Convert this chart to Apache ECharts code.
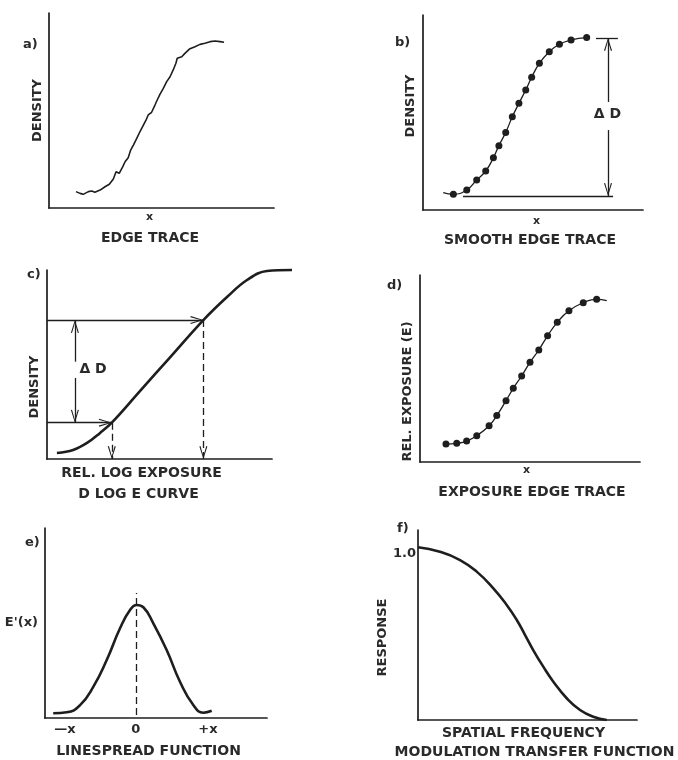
<!DOCTYPE html>
<html>
<head>
<meta charset="utf-8">
<title>Edge trace to MTF</title>
<script src="https://cdn.jsdelivr.net/npm/echarts@6.0.0/dist/echarts.min.js"></script>
<style>
  html, body { margin: 0; padding: 0; background: #fff; }
  #chart { width: 678px; height: 760px; }
</style>
</head>
<body>
<div id="chart"></div>
<script>
// a) raw microdensitometer edge trace
var edgeTrace = [
  [12.0, 8.4], [13.8, 7.5], [15.2, 7.0], [17.5, 8.4], [19.0, 8.7], [20.4, 8.1],
  [22.7, 9.2], [24.9, 10.9], [26.8, 12.2], [28.6, 14.9], [29.8, 18.6], [31.2, 17.8],
  [32.8, 21.2], [33.8, 23.7], [35.2, 25.8], [36.3, 29.7], [37.5, 32.3], [39.0, 35.7],
  [40.4, 39.1], [41.6, 41.7], [43.1, 45.1], [44.1, 47.7], [45.6, 49.1], [47.1, 52.8],
  [48.1, 55.4], [49.3, 58.3], [50.8, 61.4], [52.3, 64.8], [53.8, 67.3], [55.2, 70.8],
  [56.4, 74.2], [57.0, 76.8], [59.0, 77.6], [60.4, 79.3], [62.4, 81.5], [64.9, 82.7],
  [67.1, 83.9], [69.3, 84.5], [71.6, 85.3], [73.8, 85.6], [76.0, 85.3], [77.8, 85.0]
];
// b) smoothed edge trace, first point is the curve start (no dot)
var smoothTrace = [
  [9.2, 8.9], [13.8, 8.1], [19.9, 10.3], [24.4, 15.4], [28.5, 20.0], [32.0, 26.8],
  [34.5, 33.0], [37.6, 39.8], [40.6, 47.8], [43.6, 54.7], [46.7, 61.5], [49.4, 68.1],
  [52.9, 75.2], [57.4, 81.2], [62.0, 85.0], [67.3, 87.2], [74.4, 88.4]
];
// c) D log E curve (runs on past the end of the exposure axis)
var dLogE = [
  [4.4, 3.2], [11.6, 4.8], [17.8, 8.5], [23.6, 13.8], [28.8, 19.2], [41.3, 35.9],
  [54.7, 53.8], [69.5, 73.5], [80.0, 85.7], [88.9, 94.7], [97.8, 99.5], [108.9, 100]
];
// d) exposure edge trace, last point is the curve end (no dot)
var exposureTrace = [
  [11.8, 9.6], [16.7, 10.0], [21.2, 11.2], [25.8, 14.1], [31.4, 19.4], [34.9, 24.8],
  [39.1, 32.8], [42.4, 39.4], [46.2, 46.0], [50.0, 53.3], [54.0, 59.9], [58.0, 67.5],
  [62.4, 74.7], [67.7, 80.9], [74.2, 85.2], [80.3, 87.0], [84.9, 86.3]
];
// e) line spread function
var lineSpread = [
  [3.7, 2.5], [9.8, 3.0], [15.8, 6.8], [21.8, 16.5], [27.8, 30.5], [33.8, 47.2],
  [38.3, 56.8], [41.3, 59.5], [44.3, 58.3], [48.8, 49.8], [54.8, 35.8], [60.8, 19.1],
  [66.8, 6.8], [71.3, 2.8], [75.1, 3.8]
];
// f) modulation transfer function
var mtf = [
  [0, 1.0], [10.0, 0.974], [19.2, 0.926], [26.8, 0.859], [34.4, 0.762], [40.5, 0.666],
  [45.1, 0.579], [48.9, 0.492], [52.6, 0.405], [57.2, 0.309], [61.8, 0.222], [67.9, 0.126],
  [74.0, 0.058], [80.0, 0.019], [86.2, 0.0]
];

// annotation levels
var bDeltaX = 84.1, bLow = 7.2, bHigh = 88.2, bGap = [41.0, 55.4], bLabel = [84.1, 48.7];
var bBaseline = [18.2, 86.4], bTopTick = [78.6, 88.6];
var cLowPt = [28.8, 19.2], cHighPt = [69.5, 73.5];
var cDeltaX = 12.4, cGap = [42.9, 51.5], cLabel = [20.7, 47.1];
var eTicks = [9.0, 40.9, 73.4];
var eTickLabels = ['—x', '0', '+x'];
var ePeakLine = [40.9, 1.6, 65.8];
var fTicks = [1.0];

var INK = '#1e1e1e';
var TXT = '#2a2a2a';
var FONT = 'DejaVu Sans';
// open arrow head, tip at the top of its box
var ARROW = 'path://M0,13 L4,0 L8,13 L6.9,13.4 L4,3 L1.1,13.4 Z';

var grids = [
  {left: 49, top: 13, width: 225, height: 195},
  {left: 423, top: 15, width: 220, height: 195},
  {left: 47, top: 270, width: 225, height: 189},
  {left: 420, top: 275, width: 220, height: 187},
  {left: 45, top: 528, width: 222, height: 190},
  {left: 418, top: 530, width: 219, height: 190}
];
// wider frame over panel c so its curve can run past the axis end
var cOver = {left: 47, top: 265, width: 250, height: 194};
grids.push(cOver);
var cOverXMax = 100 * cOver.width / grids[2].width;
var cOverYMax = 100 * cOver.height / grids[2].height;

function txt(size, extra) {
  var s = {color: TXT, fontFamily: FONT, fontWeight: 'bold', fontSize: size};
  for (var k in extra) s[k] = extra[k];
  return s;
}

function xAx(i, name, gap, pad, size) {
  return {
    type: 'value', gridIndex: i, min: 0, max: 100,
    name: name, nameLocation: 'middle', nameGap: gap,
    nameTextStyle: txt(size || 14, {padding: pad || 0}),
    axisLine: {show: true, lineStyle: {color: INK, width: 1.7}},
    axisTick: {show: false}, axisLabel: {show: false}, splitLine: {show: false}
  };
}

function yAx(i, name, gap, pad, max) {
  return {
    type: 'value', gridIndex: i, min: 0, max: max || 100,
    name: name, nameLocation: 'middle', nameGap: gap, nameRotate: 90,
    nameTextStyle: txt(13, {padding: pad || 0}),
    axisLine: {show: true, lineStyle: {color: INK, width: 1.7}},
    axisTick: {show: false}, axisLabel: {show: false}, splitLine: {show: false}
  };
}

function seg(p1, p2, arrow, dashed) {
  var ls = {color: INK, width: 1.3, type: dashed ? [7, 4] : 'solid'};
  var end = {coord: p2, symbol: 'none', lineStyle: ls};
  if (arrow) {
    end.symbol = ARROW;
    end.symbolSize = [8, 13];
    end.symbolOffset = [0, 6.5];
  }
  return [{coord: p1, symbol: 'none', lineStyle: ls}, end];
}

function marks(data) {
  return {
    silent: true, animation: false,
    label: {show: false},
    itemStyle: {color: INK},
    emphasis: {disabled: true},
    data: data
  };
}

var xAxes = [
  xAx(0, 'x', 4, [0, 24, 0, 0], 11),
  xAx(1, 'x', 6, [0, 0, 0, 7], 11),
  xAx(2, 'REL. LOG EXPOSURE', 7, [0, 36, 0, 0]),
  xAx(3, 'x', 3, [0, 7, 0, 0], 11),
  xAx(4, '', 0),
  xAx(5, 'SPATIAL FREQUENCY', 6, [0, 8, 0, 0]),
  {type: 'value', gridIndex: 6, min: 0, max: cOverXMax, show: false}
];
xAxes[4].axisLabel = {
  show: true, customValues: eTicks, margin: 5,
  formatter: function (v) { return eTickLabels[eTicks.indexOf(v)]; },
  color: TXT, fontFamily: FONT, fontWeight: 'bold', fontSize: 13
};

var yAxes = [
  yAx(0, 'DENSITY', 5),
  yAx(1, 'DENSITY', 6, [0, 0, 0, 13]),
  yAx(2, 'DENSITY', 6, [0, 45, 0, 0]),
  yAx(3, 'REL. EXPOSURE (E)', 6, [0, 46, 0, 0]),
  yAx(4, "E'(x)", 7, [10, 0, 0, 0]),
  yAx(5, 'RESPONSE', 4, [0, 25, 0, 0], 1.1),
  {type: 'value', gridIndex: 6, min: 0, max: cOverYMax, show: false}
];
yAxes[4].nameRotate = 0;
yAxes[5].axisLabel = {
  show: true, customValues: fTicks, margin: 2, verticalAlign: 'top',
  formatter: function (v) { return v.toFixed(1); },
  color: TXT, fontFamily: FONT, fontWeight: 'bold', fontSize: 13
};

var letters = [['a)', 23, 38], ['b)', 395, 36], ['c)', 27, 268], ['d)', 387, 279], ['e)', 25, 536], ['f)', 397, 522]];
var captions = [
  ['EDGE TRACE', 150, 231], ['SMOOTH EDGE TRACE', 530, 233], ['D LOG E CURVE', 138.5, 487],
  ['EXPOSURE EDGE TRACE', 532, 485], ['LINESPREAD FUNCTION', 148.5, 744], ['MODULATION TRANSFER FUNCTION', 534.5, 745]
];
var titles = [];
letters.forEach(function (l) {
  titles.push({text: l[0], left: l[1], top: l[2], padding: 0, textStyle: txt(13)});
});
captions.forEach(function (c) {
  titles.push({text: c[0], left: c[1], top: c[2], padding: 0, textAlign: 'center', textStyle: txt(14)});
});

function curve(i, data, width, extra) {
  var s = {
    type: 'line', xAxisIndex: i, yAxisIndex: i, data: data,
    showSymbol: false, smooth: false, animation: false, silent: true,
    lineStyle: {color: INK, width: width}, itemStyle: {color: INK}
  };
  for (var k in extra) s[k] = extra[k];
  return s;
}

function dotted(data, skip) {
  return data.map(function (p, k) {
    return k === skip ? {value: p, symbol: 'none'} : p;
  });
}

function deltaLabel(i, pos, markData) {
  return {
    type: 'scatter', xAxisIndex: i, yAxisIndex: i, data: [pos],
    symbolSize: 1, itemStyle: {color: 'rgba(0,0,0,0)'}, silent: true, animation: false,
    label: {
      show: true, position: [0, 0], align: 'center', verticalAlign: 'middle',
      formatter: 'Δ D', color: TXT, fontFamily: FONT, fontWeight: 'bold', fontSize: 14,
      textBorderWidth: 0, opacity: 1
    },
    markLine: marks(markData)
  };
}

var series = [
  curve(0, edgeTrace, 1.6),
  curve(1, dotted(smoothTrace, 0), 1.3, {
    smooth: 0.5, showSymbol: true, symbol: 'circle', symbolSize: 7
  }),
  deltaLabel(1, bLabel, [
    seg([bBaseline[0], bLow], [bBaseline[1], bLow], false),
    seg([bTopTick[0], bHigh], [bTopTick[1], bHigh], false),
    seg([bDeltaX, bGap[1]], [bDeltaX, bHigh], true),
    seg([bDeltaX, bGap[0]], [bDeltaX, bLow], true)
  ]),
  curve(6, dLogE, 2.6, {smooth: 0.4}),
  deltaLabel(2, cLabel, [
    seg([0, cHighPt[1]], cHighPt, true),
    seg([0, cLowPt[1]], cLowPt, true),
    seg([cDeltaX, cGap[1]], [cDeltaX, cHighPt[1]], true),
    seg([cDeltaX, cGap[0]], [cDeltaX, cLowPt[1]], true),
    seg(cLowPt, [cLowPt[0], 0], true, true),
    seg(cHighPt, [cHighPt[0], 0], true, true)
  ]),
  curve(3, dotted(exposureTrace, exposureTrace.length - 1), 1.3, {
    smooth: 0.5, showSymbol: true, symbol: 'circle', symbolSize: 7
  }),
  curve(4, lineSpread, 2.6, {
    smooth: 0.5,
    markLine: marks([
      seg([ePeakLine[0], ePeakLine[1]], [ePeakLine[0], ePeakLine[2]], false, true)
    ])
  }),
  curve(5, mtf, 2.6, {smooth: 0.5})
];

var myChart = echarts.init(document.getElementById('chart'), null, {renderer: 'canvas'});
myChart.setOption({
  backgroundColor: '#fff',
  animation: false,
  title: titles,
  grid: grids,
  xAxis: xAxes,
  yAxis: yAxes,
  series: series
});
window.addEventListener('resize', function () {
  myChart.resize();
});
</script>
</body>
</html>
